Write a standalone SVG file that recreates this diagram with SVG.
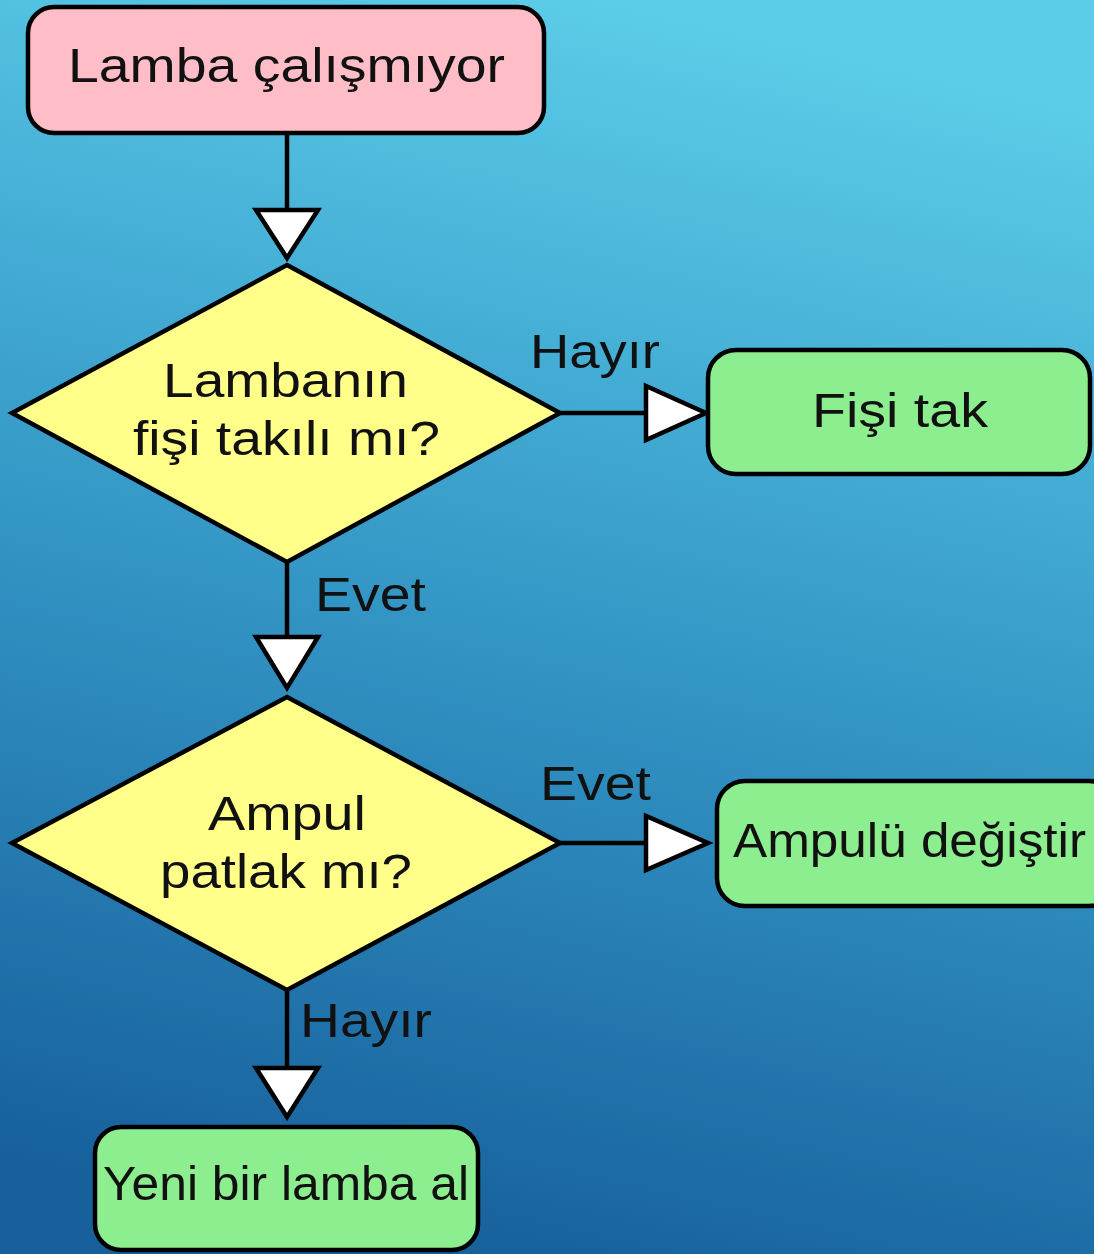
<svg xmlns="http://www.w3.org/2000/svg" width="1094" height="1254" viewBox="0 0 1094 1254">
<defs>
<linearGradient id="bg" x1="0.6" y1="0" x2="0.4" y2="1">
<stop offset="0" stop-color="#5ccde9"/>
<stop offset="0.5" stop-color="#3497c6"/>
<stop offset="1" stop-color="#17609c"/>
</linearGradient>
<style>
.box{stroke:#000;stroke-width:4.5}
.pink{fill:#ffbdc7}
.yellow{fill:#ffff8a}
.green{fill:#8cee8e}
.t{font-family:"Liberation Sans",Arial,sans-serif;font-size:48px;fill:#111}
.c{text-anchor:start}
.line{stroke:#000;stroke-width:4.5;fill:none}
.head{fill:#fff;stroke:#000;stroke-width:4.5;stroke-linejoin:miter}
</style>
</defs>
<rect width="1094" height="1254" fill="url(#bg)"/>

<g id="connectors">
<line class="line" x1="287" y1="133" x2="287" y2="210"/>
<polygon class="head" points="256,210 318,210 287,258"/>
<line class="line" x1="560" y1="413" x2="646" y2="413"/>
<polygon class="head" points="646,386 646,440 706,413"/>
<line class="line" x1="287" y1="562" x2="287" y2="637"/>
<polygon class="head" points="256,637 318,637 287,688"/>
<line class="line" x1="560" y1="843" x2="646" y2="843"/>
<polygon class="head" points="646,816 646,870 708,843"/>
<line class="line" x1="287" y1="990" x2="287" y2="1068"/>
<polygon class="head" points="256,1068 318,1068 287,1117"/>
<text class="t" x="530" y="368" textLength="130" lengthAdjust="spacingAndGlyphs">Hayır</text>
<text class="t" x="315" y="611" textLength="111" lengthAdjust="spacingAndGlyphs">Evet</text>
<text class="t" x="540" y="800" textLength="111" lengthAdjust="spacingAndGlyphs">Evet</text>
<text class="t" x="300" y="1037" textLength="132" lengthAdjust="spacingAndGlyphs">Hayır</text>
</g>

<g id="start">
<rect class="box pink" x="28" y="7" width="516" height="126" rx="26"/>
<text class="t" x="68" y="82" textLength="437" lengthAdjust="spacingAndGlyphs">Lamba çalışmıyor</text>
</g>

<g id="decision1">
<polygon class="box yellow" points="287,265 560,413 287,562 12,413"/>
<text class="t" x="163" y="397" textLength="245" lengthAdjust="spacingAndGlyphs">Lambanın</text>
<text class="t" x="133" y="455" textLength="307" lengthAdjust="spacingAndGlyphs">fişi takılı mı?</text>
</g>

<g id="plug">
<rect class="box green" x="708" y="350" width="382" height="124" rx="28"/>
<text class="t" x="812" y="427" textLength="176" lengthAdjust="spacingAndGlyphs">Fişi tak</text>
</g>

<g id="decision2">
<polygon class="box yellow" points="287,697 560,843 287,990 12,843"/>
<text class="t" x="208" y="830" textLength="158" lengthAdjust="spacingAndGlyphs">Ampul</text>
<text class="t" x="160" y="888" textLength="252" lengthAdjust="spacingAndGlyphs">patlak mı?</text>
</g>

<g id="replace">
<rect class="box green" x="717" y="781" width="400" height="125" rx="28"/>
<text class="t" x="733" y="857" textLength="353" lengthAdjust="spacingAndGlyphs">Ampulü değiştir</text>
</g>

<g id="buy">
<rect class="box green" x="95" y="1127" width="383" height="123" rx="26"/>
<text class="t" x="103" y="1200" textLength="366" lengthAdjust="spacingAndGlyphs">Yeni bir lamba al</text>
</g>
</svg>
